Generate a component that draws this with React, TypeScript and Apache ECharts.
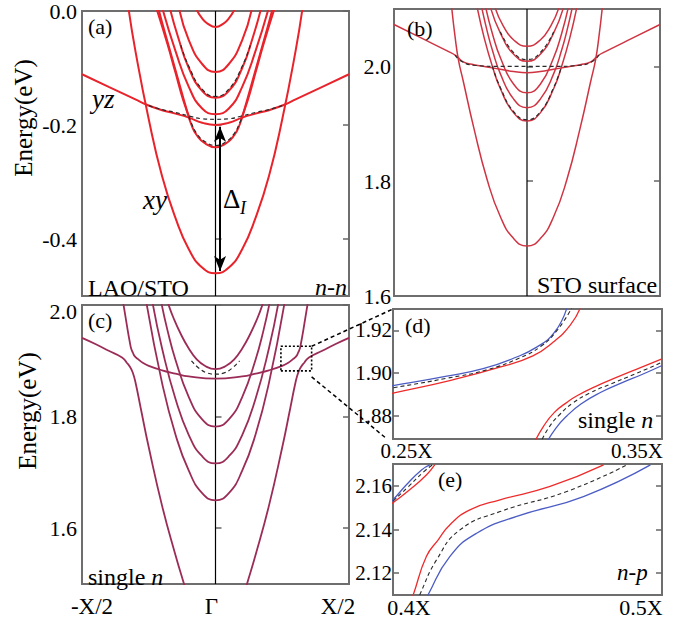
import React, { useEffect, useRef } from "react";
import * as echarts from "echarts";

type P = [number, number];

// ---------- Panel (a) LAO/STO n-n (half bands, k >= 0, symmetric about Γ) ----------
const aXy: P[] = [[0, -0.46], [0.05, -0.45], [0.1, -0.418], [0.15, -0.363], [0.2, -0.29], [0.25, -0.19], [0.3, -0.07], [0.326, 0.005]];
const aS1: P[] = [[0, -0.028], [0.03, -0.022], [0.05, -0.013], [0.072, 0.003]];
const aS2: P[] = [[0, -0.107], [0.05, -0.093], [0.1, -0.051], [0.136, 0.003]];
const aS3: P[] = [[0, -0.152], [0.05, -0.14], [0.1, -0.1], [0.14, -0.046], [0.17, 0.003]];
const aS4: P[] = [[0, -0.181], [0.05, -0.171], [0.1, -0.133], [0.15, -0.07], [0.198, 0.003]];
const aYz: P[] = [[0, -0.2], [0.05, -0.196], [0.1, -0.187], [0.15, -0.18], [0.2, -0.174], [0.26, -0.164], [0.3, -0.155], [0.4, -0.133], [0.5, -0.111]];
const aS5: P[] = [[0, -0.239], [0.04, -0.232], [0.07, -0.218], [0.09, -0.2], [0.11, -0.17], [0.14, -0.12], [0.17, -0.07], [0.2, -0.02], [0.213, 0.003]];
const aS6: P[] = [[0.095, -0.19], [0.12, -0.158], [0.15, -0.108], [0.18, -0.058], [0.22, 0.003]];
const aD1: P[] = [[0, -0.19], [0.05, -0.189], [0.1, -0.184], [0.15, -0.178], [0.2, -0.173], [0.25, -0.166]];
const aD2: P[] = [[0, -0.15], [0.05, -0.137], [0.1, -0.097], [0.13, -0.06]];
const aD3: P[] = [[0, -0.236], [0.04, -0.229], [0.07, -0.215], [0.09, -0.197], [0.1, -0.185]];
const aArrow: P[] = [[0.017, -0.203], [0.017, -0.456]];

// ---------- Panel (b) STO surface ----------
const bXy: P[] = [[0, 1.687], [0.05, 1.7], [0.1, 1.738], [0.15, 1.803], [0.2, 1.893], [0.24, 1.975], [0.258, 2.012], [0.27, 2.05], [0.283, 2.102]];
const bYz: P[] = [[0, 1.989], [0.05, 1.991], [0.1, 1.995], [0.15, 1.999], [0.2, 2.003], [0.24, 2.008], [0.265, 2.018], [0.3, 2.027], [0.4, 2.05], [0.5, 2.073]];
const bS1: P[] = [[0, 2.035], [0.05, 2.046], [0.09, 2.071], [0.12, 2.102]];
const bS2: P[] = [[0, 2.009], [0.05, 2.021], [0.1, 2.058], [0.137, 2.102]];
const bS4: P[] = [[0, 1.954], [0.05, 1.969], [0.1, 2.015], [0.13, 2.057], [0.155, 2.102]];
const bS5: P[] = [[0, 1.928], [0.05, 1.943], [0.1, 1.987], [0.13, 2.028], [0.15, 2.062], [0.17, 2.102]];
const bS6: P[] = [[0, 1.905], [0.05, 1.919], [0.1, 1.961], [0.13, 2.0], [0.16, 2.048], [0.187, 2.102]];
const bD1: P[] = [[0, 2.0], [0.1, 2.0], [0.2, 2.002], [0.25, 2.01], [0.27, 2.02]];
const bD2: P[] = [[0, 2.012], [0.05, 2.024], [0.1, 2.06]];
const bD3: P[] = [[0, 1.907], [0.05, 1.921], [0.1, 1.963], [0.13, 2.0]];

// ---------- Panel (c) single n ----------
const cXyLow: P[] = [[0.1, 1.47], [0.116, 1.497], [0.15, 1.552], [0.2, 1.64], [0.25, 1.745], [0.28, 1.815], [0.3, 1.862], [0.31, 1.879], [0.32, 1.889], [0.333, 1.897], [0.35, 1.906], [0.4, 1.918], [0.45, 1.93], [0.5, 1.941]];
const cUp: P[] = [[0, 1.868], [0.1, 1.872], [0.15, 1.877], [0.2, 1.883], [0.25, 1.891], [0.271, 1.896], [0.29, 1.903], [0.302, 1.908], [0.31, 1.915], [0.316, 1.922], [0.32, 1.931], [0.33, 1.958], [0.345, 2.002]];
const cS1: P[] = [[0, 1.885], [0.04, 1.891], [0.071, 1.903], [0.1, 1.922], [0.13, 1.948], [0.155, 1.974], [0.177, 2.002]];
const cS2: P[] = [[0, 1.782], [0.05, 1.795], [0.1, 1.835], [0.15, 1.902], [0.18, 1.955], [0.202, 2.002]];
const cS3: P[] = [[0, 1.716], [0.05, 1.729], [0.1, 1.767], [0.15, 1.832], [0.2, 1.922], [0.235, 2.002]];
const cS4: P[] = [[0, 1.65], [0.05, 1.663], [0.1, 1.703], [0.15, 1.768], [0.2, 1.86], [0.258, 2.002]];
const cD1: P[] = [[0, 1.876], [0.03, 1.878], [0.06, 1.886], [0.09, 1.9]];
const cBoxK = [0.245, 0.36];
const cBoxE = [1.882, 1.926];

// ---------- Panel (d) single n, zoom ----------
const dRedUp: P[] = [[0.245, 1.889], [0.25, 1.8905], [0.2711, 1.8964], [0.2897, 1.9027], [0.302, 1.908], [0.3096, 1.9145], [0.3159, 1.9224], [0.3196, 1.9303]];
const dDashUp: P[] = [[0.245, 1.892], [0.25, 1.893], [0.27, 1.8975], [0.285, 1.9015], [0.297, 1.907], [0.305, 1.9125], [0.311, 1.92], [0.3164, 1.9303]];
const dBlueUp: P[] = [[0.245, 1.893], [0.25, 1.894], [0.27, 1.8985], [0.2835, 1.902], [0.295, 1.907], [0.3034, 1.9121], [0.31, 1.919], [0.3146, 1.9303]];
const dRedLow: P[] = [[0.302, 1.866], [0.306, 1.875], [0.31, 1.8815], [0.315, 1.8865], [0.3184, 1.8893], [0.325, 1.8935], [0.3333, 1.898], [0.342, 1.9025], [0.35, 1.9066]];
const dDashLow: P[] = [[0.3043, 1.866], [0.308, 1.8745], [0.312, 1.8805], [0.317, 1.886], [0.323, 1.8905], [0.3303, 1.8945], [0.34, 1.8995], [0.35, 1.905]];
const dBlueLow: P[] = [[0.3065, 1.866], [0.3105, 1.874], [0.3146, 1.8798], [0.32, 1.8855], [0.3271, 1.8908], [0.335, 1.8953], [0.343, 1.8995], [0.35, 1.9035]];

// ---------- Panel (e) n-p, zoom ----------
const eRed: P[] = [[0.4065, 2.107], [0.4075, 2.11], [0.4124, 2.1276], [0.4168, 2.1353], [0.4211, 2.1421], [0.4286, 2.149], [0.4398, 2.1536], [0.4584, 2.1597], [0.4783, 2.1696]];
const eDash: P[] = [[0.409, 2.107], [0.4099, 2.11], [0.4162, 2.1261], [0.4249, 2.1398], [0.4398, 2.1482], [0.4646, 2.1574], [0.487, 2.1696]];
const eBlue: P[] = [[0.412, 2.107], [0.413, 2.11], [0.4211, 2.1276], [0.4311, 2.1383], [0.446, 2.146], [0.4708, 2.1551], [0.4957, 2.1696]];
const eRedS: P[] = [[0.398, 2.1505], [0.4, 2.1523], [0.4062, 2.1582], [0.4124, 2.165], [0.4155, 2.1696]];
const eDashS: P[] = [[0.398, 2.151], [0.4, 2.153], [0.4056, 2.1595], [0.4115, 2.1665], [0.4146, 2.1696]];
const eBlueS: P[] = [[0.398, 2.1515], [0.4, 2.1536], [0.405, 2.1605], [0.4106, 2.1673], [0.4137, 2.1696]];

// ---------- Axes ----------
const xRanges: P[] = [[-0.5, 0.5], [-0.5, 0.5], [-0.5, 0.5], [0.25, 0.35], [0.4, 0.5]];
const yRanges: P[] = [[-0.5, 0], [1.6, 2.1], [1.5, 2.0], [1.869, 1.93], [2.11, 2.17]];
const yTicks: number[][] = [[-0.4, -0.2, 0], [1.6, 1.8, 2.0], [1.6, 1.8, 2.0], [1.88, 1.9, 1.92], [2.12, 2.14, 2.16]];
const yDigits = [1, 1, 1, 2, 2];
const cXTicks = [-0.5, 0, 0.5];
const cXLabels = ["-X/2", "Γ", "X/2"];
const dXTicks = [0.25, 0.35];
const dXLabels = ["0.25X", "0.35X"];
const eXTicks = [0.4, 0.5];
const eXLabels = ["0.4X", "0.5X"];

const FONT = "Liberation Serif, Times New Roman, serif";
const RED_A = "#e8232b";
const RED_B = "#cf3443";
const RED_C = "#9b2c57";
const RED_D = "#ee2b2b";
const BLUE = "#4b5cc4";
const DASH = "#2a2a2a";

const grids = [
  { left: 82, top: 10, width: 267, height: 286 },
  { left: 394, top: 9, width: 266, height: 287 },
  { left: 82, top: 305, width: 267, height: 284 },
  { left: 393, top: 309, width: 269, height: 130 },
  { left: 393, top: 464, width: 269, height: 131 },
];

function mirror(half: P[]): P[] {
  const left = half.filter((p) => p[0] > 0).map(([k, e]) => [-k, e] as P).reverse();
  return [...left, ...half];
}
function flip(half: P[]): P[] {
  return half.map(([k, e]) => [-k, e] as P).reverse();
}

function ln(g: number, data: P[], color: string, width: number, dashed = false, z = 2): any {
  return {
    type: "line",
    xAxisIndex: g,
    yAxisIndex: g * 2,
    data,
    showSymbol: false,
    symbol: "none",
    smooth: 0.5,
    silent: true,
    clip: true,
    z,
    lineStyle: { color, width, type: dashed ? [4, 3] : "solid" },
  };
}

function xLabelAxis(ticks: number[], labels: string[], size: number, margin: number, padL: number, padM: number, padR: number) {
  const keys = ticks.length === 3 ? ["l", "m", "r"] : ["l", "r"];
  const base = { fontSize: size, fontFamily: FONT, color: "#000" };
  return {
    show: true,
    customValues: ticks,
    margin,
    fontSize: size,
    fontFamily: FONT,
    formatter: (v: number) => {
      const i = ticks.findIndex((t) => Math.abs(t - v) < 1e-9);
      if (i < 0) return "";
      return `{${keys[i]}|${labels[i]}}`;
    },
    rich: {
      l: { ...base, padding: [0, 0, 0, padL] },
      m: { ...base, padding: [0, padM, 0, 0] },
      r: { ...base, padding: [0, padR, 0, 0] },
    },
  };
}

export default function App() {
  const ref = useRef<HTMLDivElement>(null);
  useEffect(() => {
    if (!ref.current) return;
    const chart = echarts.init(ref.current, undefined, { renderer: "svg" });

    const xAxis: any[] = grids.map((_, i) => ({
      type: "value",
      gridIndex: i,
      min: xRanges[i][0],
      max: xRanges[i][1],
      axisLine: { show: false },
      axisTick: { show: false },
      splitLine: { show: false },
      axisLabel:
        i === 2
          ? xLabelAxis(cXTicks, cXLabels, 23, 11, 20, 8, 22)
          : i === 3
          ? xLabelAxis(dXTicks, dXLabels, 21, 1, 27, 0, 50)
          : i === 4
          ? xLabelAxis(eXTicks, eXLabels, 22, 1, 32, 0, 42)
          : { show: false },
    }));

    const yAxis: any[] = [];
    grids.forEach((_, i) => {
      const tick = { show: true, inside: true, length: 6, customValues: yTicks[i], lineStyle: { color: "#666", width: 1.5 } };
      const size = i >= 3 ? 21 : 22;
      const topShift = i === 2; // "2.0" of panel (c) sits a little below the frame corner
      yAxis.push({
        type: "value",
        gridIndex: i,
        position: "left",
        min: yRanges[i][0],
        max: yRanges[i][1],
        axisLine: { show: false },
        axisTick: tick,
        splitLine: { show: false },
        axisLabel: {
          customValues: yTicks[i],
          formatter: (v: number) =>
            topShift && Math.abs(v - yRanges[i][1]) < 1e-9 ? `{t|${v.toFixed(yDigits[i])}}` : `{n|${v.toFixed(yDigits[i])}}`,
          rich: {
            n: { fontSize: size, fontFamily: FONT, color: "#000" },
            t: { fontSize: size, fontFamily: FONT, color: "#000", padding: [12, 0, 0, 0] },
          },
          fontSize: size,
          fontFamily: FONT,
          color: "#000",
          margin: i >= 3 ? 1 : i === 1 ? 3 : 5,
        },
      });
      yAxis.push({
        type: "value",
        gridIndex: i,
        position: "right",
        min: yRanges[i][0],
        max: yRanges[i][1],
        axisLine: { show: false },
        axisTick: tick,
        splitLine: { show: false },
        axisLabel: { show: false },
      });
    });

    const gammaLine = (g: number): any => ({
      ...ln(g, [[0, yRanges[g][0]], [0, yRanges[g][1]]], "#000", 1.2, false, 1),
      smooth: false,
    });

    const series: any[] = [];
    // (a)
    const ga = gammaLine(0);
    ga.markLine = {
      silent: true,
      symbol: ["arrow", "arrow"],
      symbolSize: [9, 15],
      label: { show: false },
      lineStyle: { color: "#000", width: 2, type: "solid" },
      data: [[{ coord: aArrow[0] }, { coord: aArrow[1] }]],
    };
    series.push(ga);
    [aXy, aS1, aS2, aS3, aS4, aYz, aS5].forEach((b) => series.push(ln(0, mirror(b), RED_A, 2)));
    series.push(ln(0, aS6, RED_A, 2));
    series.push(ln(0, flip(aS6), RED_A, 2));
    [aD1, aD2, aD3].forEach((b) => series.push(ln(0, mirror(b), DASH, 1.2, true, 3)));
    // (b)
    series.push(gammaLine(1));
    [bXy, bYz, bS1, bS2, bS4, bS5, bS6].forEach((b) => series.push(ln(1, mirror(b), RED_B, 1.5)));
    [bD1, bD2, bD3].forEach((b) => series.push(ln(1, mirror(b), DASH, 1.2, true, 3)));
    // (c)
    series.push(gammaLine(2));
    series.push(ln(2, cXyLow, RED_C, 1.8));
    series.push(ln(2, flip(cXyLow), RED_C, 1.8));
    [cUp, cS1, cS2, cS3, cS4].forEach((b) => series.push(ln(2, mirror(b), RED_C, 1.8)));
    series.push(ln(2, mirror(cD1), DASH, 1.2, true, 3));
    series.push({
      ...ln(2, [[cBoxK[0], cBoxE[0]], [cBoxK[1], cBoxE[0]], [cBoxK[1], cBoxE[1]], [cBoxK[0], cBoxE[1]], [cBoxK[0], cBoxE[0]]], "#000", 1.6, false, 4),
      smooth: false,
      lineStyle: { color: "#000", width: 1.6, type: [2, 2] },
    });
    // (d)
    [dRedUp, dRedLow].forEach((b) => series.push(ln(3, b, RED_D, 1.3)));
    [dBlueUp, dBlueLow].forEach((b) => series.push(ln(3, b, BLUE, 1.3)));
    [dDashUp, dDashLow].forEach((b) => series.push(ln(3, b, DASH, 1.1, true, 3)));
    // (e)
    [eRed, eRedS].forEach((b) => series.push(ln(4, b, RED_D, 1.3)));
    [eBlue, eBlueS].forEach((b) => series.push(ln(4, b, BLUE, 1.3)));
    [eDash, eDashS].forEach((b) => series.push(ln(4, b, DASH, 1.1, true, 3)));

    chart.setOption({
      animation: false,
      backgroundColor: "#fff",
      textStyle: { fontFamily: FONT },
      grid: grids.map((g) => ({ ...g, show: true, borderColor: "#6e6e6e", borderWidth: 2, backgroundColor: "transparent" })),
      xAxis,
      yAxis,
      series,
    });

    const px = (g: number, p: number[]) => chart.convertToPixel({ gridIndex: g } as any, p) as number[];
    const boxTop = px(2, [cBoxK[1], cBoxE[1]]);
    const boxBot = px(2, [cBoxK[1], cBoxE[0]]);
    const dTop = px(3, [xRanges[3][0], yRanges[3][1]]);
    const dBot = px(3, [xRanges[3][0], yRanges[3][0]]);

    const txt = (text: string, x: number, y: number, size: number, opts: any = {}) => ({
      type: "text",
      x,
      y,
      rotation: opts.rotation || 0,
      z: 100,
      silent: true,
      style: {
        text,
        fontSize: size,
        fontFamily: FONT,
        fontStyle: opts.italic ? "italic" : "normal",
        fill: "#000",
        align: opts.align || "left",
        verticalAlign: "middle",
        rich: opts.rich,
      },
    });
    const richSingle = {
      r: { fontSize: 24, fontFamily: FONT, fill: "#000" },
      i: { fontSize: 24, fontFamily: FONT, fontStyle: "italic", fill: "#000" },
    };

    chart.setOption({
      graphic: [
        txt("Energy(eV)", 23, 118, 25, { rotation: Math.PI / 2, align: "center" }),
        txt("Energy(eV)", 27, 411, 25, { rotation: Math.PI / 2, align: "center" }),
        txt("(a)", 88, 26, 22),
        txt("(b)", 407, 28, 22),
        txt("(c)", 88, 320, 22),
        txt("(d)", 405, 325, 22),
        txt("(e)", 438, 479, 22),
        txt("LAO/STO", 88, 288, 24),
        txt("n-n", 347, 287, 24, { italic: true, align: "right" }),
        txt("STO surface", 537, 285, 24),
        txt("{r|single }{i|n}", 88, 577, 24, { rich: richSingle }),
        txt("{r|single }{i|n}", 578, 420, 24, { rich: richSingle }),
        txt("n-p", 617, 572, 23, { italic: true }),
        txt("yz", 92, 99, 27, { italic: true }),
        txt("xy", 143, 200, 27, { italic: true }),
        txt("Δ", 223, 199, 27),
        txt("I", 240, 208, 18, { italic: true }),
        {
          type: "line",
          silent: true,
          z: 100,
          shape: { x1: boxTop[0], y1: boxTop[1], x2: dTop[0], y2: dTop[1] },
          style: { stroke: "#000", lineWidth: 1.5, lineDash: [4, 3] },
        },
        {
          type: "line",
          silent: true,
          z: 100,
          shape: { x1: boxBot[0], y1: boxBot[1] + 6, x2: dBot[0] - 6, y2: dBot[1] },
          style: { stroke: "#000", lineWidth: 1.5, lineDash: [4, 3] },
        },
      ],
    });

    return () => chart.dispose();
  }, []);

  return (
    <div
      ref={ref}
      style={{ position: "fixed", left: 0, top: 0, width: 690, height: 618, background: "#fff" }}
    />
  );
}
